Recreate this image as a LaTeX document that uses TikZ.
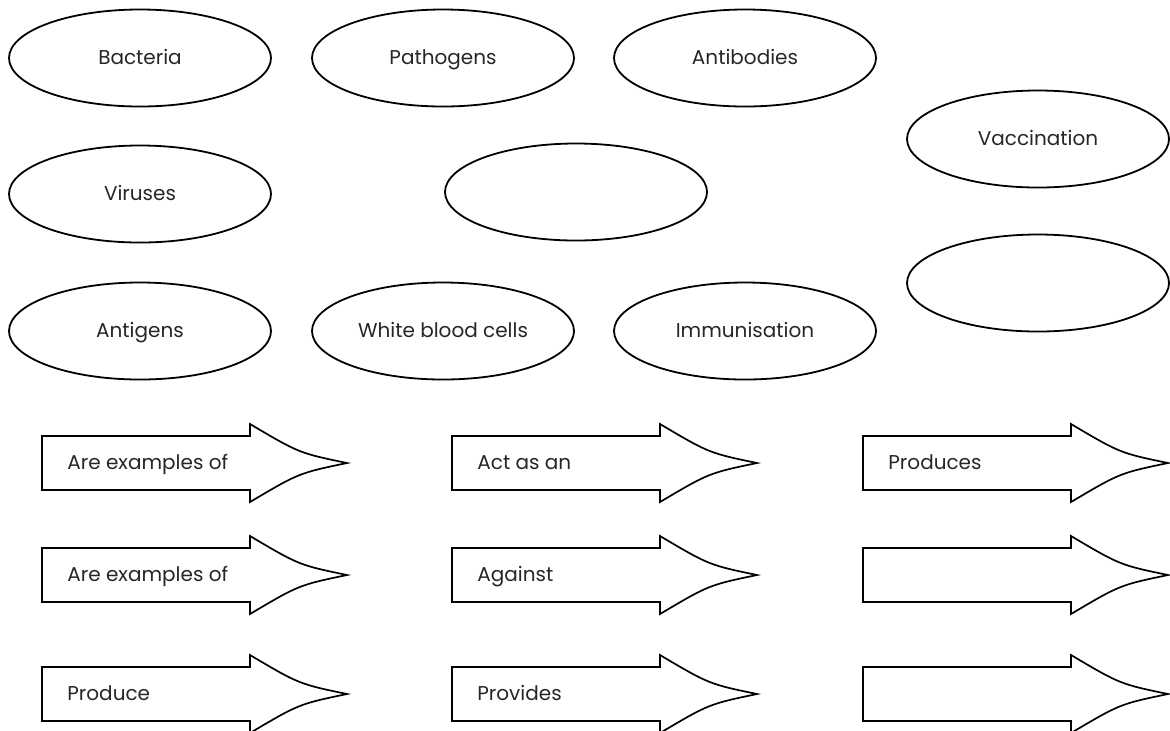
\documentclass[tikz,border=0pt]{standalone}
\usepackage{fontspec}
\setmainfont{Poppins}
\usetikzlibrary{shapes.geometric}
\tikzset{
    concept/.style = {draw, ellipse, line width=0.9pt, minimum width=131pt, minimum height=48.5pt,
        inner sep=0pt, text height=1.6ex, text depth=0.35ex, text=black!85, font=\fontsize{10}{12}\selectfont},
    link line/.style = {draw, line width=0.85pt, line join=miter},
    link text/.style = {anchor=west, inner sep=0pt, text height=1.6ex, text depth=0.35ex, text=black!85,
        font=\fontsize{10}{12}\selectfont},
    pics/link arrow/.style = {code = {
        \draw[link line] (0,-27) -- (208,-27) -- (208,-39) .. controls (257,-10) .. (305,0)
            .. controls (257,10) .. (208,39) -- (208,27) -- (0,27) -- cycle;
        \node[link text] (-text) at (25,0) {#1};
    }},
}

\begin{document}
\begin{tikzpicture}[x=0.5pt, y=-0.5pt]
    \useasboundingbox (0,0) rectangle (1170,730);

    % concepts
    \node[concept] (bacteria) at (140, 58) {Bacteria};
    \node[concept] (pathogens) at (443, 58) {Pathogens};
    \node[concept] (antibodies) at (745, 58) {Antibodies};
    \node[concept] (vaccination) at (1038, 139) {Vaccination};

    \node[concept] (viruses) at (140, 194) {Viruses};
    \node[concept] (blankA) at (576, 192) {};
    \node[concept] (blankB) at (1038, 283) {};

    \node[concept] (antigens) at (140, 331) {Antigens};
    \node[concept] (wbc) at (443, 331) {White blood cells};
    \node[concept] (immunisation) at (745, 331) {Immunisation};

    % linking words
    \pic (examplesA) at (42, 463) {link arrow={Are examples of}};
    \pic (actas) at (452, 463) {link arrow={Act as an}};
    \pic (produces) at (863, 463) {link arrow={Produces}};

    \pic (examplesB) at (42, 575) {link arrow={Are examples of}};
    \pic (against) at (452, 575) {link arrow={Against}};
    \pic (linkA) at (863, 575) {link arrow={}};

    \pic (produce) at (42, 694) {link arrow={Produce}};
    \pic (provides) at (452, 694) {link arrow={Provides}};
    \pic (linkB) at (863, 694) {link arrow={}};
\end{tikzpicture}
\end{document}
